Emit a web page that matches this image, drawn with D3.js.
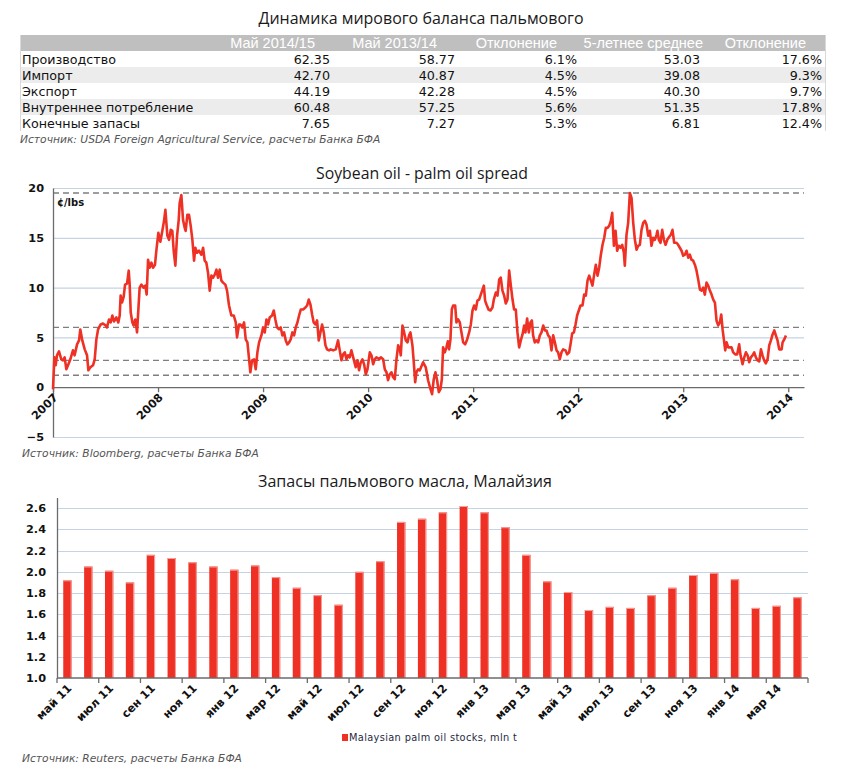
<!DOCTYPE html>
<html><head><meta charset="utf-8">
<script src="https://cdn.jsdelivr.net/npm/d3@7"></script>
<style>body{margin:0;background:#fff}svg{display:block}</style>
</head><body>
<script>
// ---------- DATA ----------
const tableTitle = "Динамика мирового баланса пальмового";
const tableColumns = ["Май 2014/15","Май 2013/14","Отклонение","5-летнее среднее","Отклонение"];
const tableRows = ["Производство","Импорт","Экспорт","Внутреннее потребление","Конечные запасы"];
const may2014 = ["62.35","42.70","44.19","60.48","7.65"];
const may2013 = ["58.77","40.87","42.28","57.25","7.27"];
const deviation1 = ["6.1%","4.5%","4.5%","5.6%","5.3%"];
const avg5y = ["53.03","39.08","40.30","51.35","6.81"];
const deviation2 = ["17.6%","9.3%","9.7%","17.8%","12.4%"];
const tableSource = "Источник: USDA Foreign Agricultural Service, расчеты Банка БФА";

const spreadTitle = "Soybean oil - palm oil spread";
const spreadUnit = "¢/lbs";
const spreadYearTicks = [2007,2008,2009,2010,2011,2012,2013,2014];
const spreadValueTicks = [-5,0,5,10,15,20];
const spreadRefLines = [19.5, 6.0, 2.7, 1.2];
const spreadTime = [
2007.000,2007.013,2007.025,2007.038,2007.057,2007.079,2007.095,2007.111,2007.127,2007.143,2007.165,2007.190,2007.206,2007.229,2007.248,2007.260,2007.279,2007.302,2007.324,2007.337,
2007.356,2007.381,2007.397,2007.413,2007.429,2007.454,2007.476,2007.502,2007.514,2007.533,2007.549,2007.565,2007.581,2007.603,2007.622,2007.635,2007.644,2007.657,2007.673,2007.686,
2007.705,2007.721,2007.730,2007.740,2007.756,2007.768,2007.784,2007.800,2007.825,2007.841,2007.863,2007.879,2007.892,2007.905,2007.921,2007.937,2007.952,2007.971,2007.984,2008.003,
2008.022,2008.041,2008.057,2008.070,2008.089,2008.105,2008.121,2008.136,2008.149,2008.165,2008.181,2008.197,2008.206,2008.222,2008.238,2008.254,2008.263,2008.279,2008.295,2008.311,
2008.327,2008.343,2008.355,2008.371,2008.390,2008.413,2008.429,2008.444,2008.460,2008.476,2008.492,2008.508,2008.524,2008.540,2008.556,2008.571,2008.587,2008.603,2008.619,2008.641,
2008.657,2008.676,2008.698,2008.721,2008.740,2008.752,2008.771,2008.784,2008.803,2008.819,2008.835,2008.851,2008.867,2008.879,2008.895,2008.914,2008.930,2008.946,2008.962,2008.984,
2009.000,2009.016,2009.032,2009.048,2009.063,2009.086,2009.102,2009.117,2009.133,2009.152,2009.168,2009.184,2009.200,2009.216,2009.232,2009.248,2009.263,2009.279,2009.295,2009.311,
2009.327,2009.343,2009.359,2009.381,2009.403,2009.419,2009.435,2009.451,2009.467,2009.482,2009.498,2009.514,2009.530,2009.546,2009.562,2009.578,2009.594,2009.609,2009.628,2009.644,
2009.667,2009.692,2009.714,2009.730,2009.746,2009.762,2009.778,2009.794,2009.809,2009.825,2009.841,2009.863,2009.882,2009.898,2009.914,2009.930,2009.946,2009.962,2009.978,2009.994,
2010.016,2010.032,2010.048,2010.063,2010.079,2010.105,2010.121,2010.143,2010.159,2010.175,2010.190,2010.206,2010.222,2010.238,2010.254,2010.270,2010.286,2010.302,2010.311,2010.327,
2010.343,2010.359,2010.375,2010.390,2010.403,2010.422,2010.435,2010.448,2010.460,2010.476,2010.492,2010.524,2010.549,2010.571,2010.594,2010.609,2010.625,2010.641,2010.657,2010.673,
2010.689,2010.702,2010.714,2010.730,2010.746,2010.759,2010.771,2010.784,2010.797,2010.809,2010.829,2010.841,2010.857,2010.873,2010.889,2010.905,2010.924,2010.943,2010.962,2010.978,
2010.994,2011.009,2011.025,2011.041,2011.057,2011.073,2011.089,2011.102,2011.114,2011.127,2011.146,2011.165,2011.184,2011.197,2011.216,2011.232,2011.248,2011.263,2011.279,2011.295,
2011.311,2011.327,2011.343,2011.359,2011.375,2011.390,2011.406,2011.422,2011.438,2011.454,2011.470,2011.486,2011.498,2011.514,2011.530,2011.546,2011.559,2011.571,2011.587,2011.603,
2011.619,2011.635,2011.651,2011.667,2011.683,2011.698,2011.714,2011.730,2011.746,2011.762,2011.778,2011.794,2011.809,2011.825,2011.841,2011.857,2011.879,2011.895,2011.914,2011.927,
2011.943,2011.959,2011.975,2011.990,2012.006,2012.022,2012.041,2012.057,2012.073,2012.089,2012.105,2012.121,2012.136,2012.152,2012.168,2012.184,2012.200,2012.216,2012.232,2012.248,
2012.263,2012.279,2012.295,2012.311,2012.324,2012.340,2012.356,2012.371,2012.387,2012.403,2012.419,2012.435,2012.444,2012.460,2012.476,2012.492,2012.508,2012.524,2012.540,2012.556,
2012.571,2012.587,2012.603,2012.619,2012.635,2012.651,2012.667,2012.683,2012.698,2012.714,2012.730,2012.746,2012.755,2012.768,2012.784,2012.800,2012.816,2012.832,2012.848,2012.867,
2012.882,2012.898,2012.914,2012.936,2012.952,2012.968,2012.984,2013.000,2013.016,2013.032,2013.048,2013.063,2013.079,2013.095,2013.111,2013.127,2013.143,2013.159,2013.175,2013.190,
2013.206,2013.222,2013.238,2013.254,2013.270,2013.286,2013.302,2013.317,2013.333,2013.349,2013.362,2013.375,2013.387,2013.400,2013.413,2013.429,2013.444,2013.460,2013.476,2013.495,
2013.514,2013.533,2013.546,2013.565,2013.581,2013.597,2013.613,2013.628,2013.644,2013.660,2013.676,2013.692,2013.708,2013.724,2013.740,2013.755,2013.771,2013.787,2013.803,2013.819,
2013.835,2013.851,2013.867,2013.882,2013.898,2013.914,2013.937,2013.946,2013.962,2013.978];
const spreadValue = [
-0.2,3.0,2.2,3.2,3.6,2.8,2.7,3.0,1.8,2.2,2.8,3.7,3.2,4.3,4.7,5.8,4.7,3.8,3.2,1.7,
2.0,2.2,2.8,4.8,5.8,6.3,6.4,6.2,6.0,6.8,6.5,7.2,6.6,7.0,6.5,7.2,9.2,8.5,9.1,10.3,
10.4,11.7,10.3,7.5,6.5,6.2,6.8,5.5,10.0,10.3,10.0,10.2,9.3,12.8,12.0,12.5,12.0,12.3,13.7,15.5,
14.6,15.7,16.7,17.8,15.2,14.8,15.8,15.7,13.7,12.2,15.2,16.8,18.5,19.3,16.8,16.0,15.7,17.3,17.3,16.2,
14.8,12.7,14.0,13.5,13.7,13.3,14.0,12.7,12.5,11.5,9.7,11.2,11.0,11.3,11.8,11.0,11.8,10.7,10.5,10.3,
9.7,8.2,7.2,7.2,6.5,5.0,6.3,6.3,6.0,6.5,4.8,4.5,2.8,1.5,2.7,2.8,1.8,3.5,4.5,5.2,
6.0,5.5,6.8,6.3,7.0,7.2,7.7,6.8,6.0,5.8,6.0,5.2,5.5,4.7,4.3,4.5,4.8,5.5,5.2,6.0,
6.5,7.2,7.8,7.8,8.0,8.2,8.8,8.3,7.3,6.5,6.3,6.7,4.7,5.5,6.3,5.5,4.2,3.8,3.7,3.8,
3.7,3.8,4.7,3.7,2.7,3.3,3.5,2.8,3.2,3.0,3.7,2.8,2.0,2.7,1.7,2.5,2.8,2.3,1.3,1.8,
3.5,3.2,2.3,2.8,3.0,2.8,3.0,2.8,1.8,1.5,0.7,1.3,1.5,1.0,0.8,2.8,4.2,3.8,3.2,6.2,
5.5,4.7,4.5,5.2,5.5,4.2,2.5,0.5,1.5,1.8,1.7,2.5,2.0,0.7,-0.2,-0.7,0.8,1.5,0.7,-0.5,
-0.2,0.8,4.0,3.5,4.0,4.6,3.8,4.8,7.8,8.2,8.2,6.5,6.8,6.5,5.5,4.5,4.3,4.8,5.5,6.3,
7.7,8.2,7.8,8.7,8.8,9.3,9.8,10.2,8.7,8.3,7.8,7.7,8.0,8.8,9.5,9.2,10.8,11.0,9.7,9.2,
8.4,8.8,11.7,10.2,8.8,7.8,7.8,5.5,4.0,4.7,5.3,6.2,5.5,6.9,5.5,6.5,6.7,5.2,4.5,4.7,
4.5,5.2,5.5,6.2,5.7,5.7,5.2,5.0,3.7,5.2,4.5,3.7,3.5,2.8,3.5,3.8,3.7,3.3,3.5,4.3,
5.4,5.5,6.3,7.2,7.7,8.2,8.2,9.3,9.2,10.7,11.2,10.7,10.2,11.3,12.3,11.2,12.0,13.3,14.3,15.0,
16.0,16.0,16.2,16.7,17.5,14.2,15.7,13.7,14.2,14.0,14.3,13.5,12.2,15.3,16.5,19.5,19.0,16.5,14.8,13.8,
14.2,14.3,15.8,16.5,16.7,16.3,15.2,15.7,14.2,15.0,14.8,15.3,15.7,14.8,14.5,15.8,14.8,14.3,14.8,15.1,
15.3,15.8,14.5,14.5,14.3,14.0,13.7,13.2,13.3,13.7,13.0,13.3,12.8,12.7,12.3,11.7,10.8,9.8,9.7,10.0,
9.3,10.5,10.2,9.7,9.3,8.8,8.5,6.7,6.2,6.5,7.3,5.8,4.8,3.7,4.5,4.0,4.0,4.0,3.5,3.3,
3.3,4.3,3.2,2.3,3.0,3.5,3.2,2.5,3.0,3.2,3.5,3.0,2.7,2.6,3.8,3.2,2.7,2.4,2.8,4.2,
4.7,5.3,5.7,5.2,4.7,3.8,3.8,4.5,4.8,5.2];
const spreadSource = "Источник: Bloomberg, расчеты Банка БФА";

const stocksTitle = "Запасы пальмового масла, Малайзия";
const stockMonths = ["май 11","июн 11","июл 11","авг 11","сен 11","окт 11","ноя 11","дек 11","янв 12","фев 12","мар 12","апр 12",
"май 12","июн 12","июл 12","авг 12","сен 12","окт 12","ноя 12","дек 12","янв 13","фев 13","мар 13","апр 13",
"май 13","июн 13","июл 13","авг 13","сен 13","окт 13","ноя 13","дек 13","янв 14","фев 14","мар 14","апр 14"];
const stockValues = [1.92,2.05,2.01,1.90,2.16,2.13,2.09,2.05,2.02,2.06,1.95,1.85,
1.78,1.69,2.00,2.10,2.47,2.50,2.56,2.62,2.56,2.42,2.16,1.91,
1.81,1.64,1.67,1.66,1.78,1.85,1.97,1.99,1.93,1.66,1.68,1.76];
const stockTicks = [1.0,1.2,1.4,1.6,1.8,2.0,2.2,2.4,2.6];
const stockLegend = "Malaysian palm oil stocks, mln t";
const stockSource = "Источник: Reuters, расчеты Банка БФА";

// ---------- STYLE ----------
const RED = "#ee3124", GRID = "#c5d3e3", AXIS = "#6b6b6b", DASH = "#7f7f7f";
const TITLE_FONT = "'Open Sans', 'Noto Sans', sans-serif";
const BODY_FONT = "'DejaVu Sans', Verdana, sans-serif";

const svg = d3.select("body").append("svg").attr("width", 842).attr("height", 769);

// ---------- TABLE ----------
svg.append("text").attr("x", 421).attr("y", 24).attr("text-anchor","middle")
  .attr("font-family", TITLE_FONT).attr("font-size", 17).attr("fill","#1a1a1a")
  .attr("textLength", 325).attr("lengthAdjust","spacingAndGlyphs").text(tableTitle);

const rowY = d3.scaleBand().domain(d3.range(-1, tableRows.length)).range([35, 131]);
svg.append("rect").attr("x",20).attr("y",rowY(-1)).attr("width",805).attr("height",rowY.bandwidth()).attr("fill","#bfbfbf");
tableRows.forEach((r,i)=>{ if(i%2===1) svg.append("rect").attr("x",20).attr("y",rowY(i)).attr("width",805).attr("height",rowY.bandwidth()).attr("fill","#ececec"); });
svg.append("line").attr("x1",20.5).attr("x2",20.5).attr("y1",35).attr("y2",131).attr("stroke","#d9d9d9");
svg.append("line").attr("x1",825.5).attr("x2",825.5).attr("y1",35).attr("y2",131).attr("stroke","#d9d9d9");

const headerRight = [315, 437, 557, 703, 806];
const valueRight = [330, 455, 577, 700, 822];
tableColumns.forEach((c,j)=>{
  svg.append("text").attr("x", headerRight[j]).attr("y", rowY(-1)+rowY.bandwidth()/2+5)
    .attr("text-anchor","end").attr("font-family","'Liberation Sans', Arial, sans-serif").attr("font-size",14.5)
    .attr("fill","#ffffff").text(c);
});
const cols = [may2014, may2013, deviation1, avg5y, deviation2];
tableRows.forEach((r,i)=>{
  const yb = rowY(i)+rowY.bandwidth()/2+4.5;
  svg.append("text").attr("x",22).attr("y",yb).attr("font-family",BODY_FONT).attr("font-size",12.7).attr("fill","#111").text(r);
  cols.forEach((col,j)=>{
    svg.append("text").attr("x",valueRight[j]).attr("y",yb).attr("text-anchor","end")
      .attr("font-family",BODY_FONT).attr("font-size",12.7).attr("fill","#111").text(col[i]);
  });
});
svg.append("text").attr("x",20).attr("y",143).attr("font-family",BODY_FONT).attr("font-style","italic")
  .attr("font-size",10.7).attr("fill","#555").text(tableSource);

// ---------- LINE CHART ----------
const lx = d3.scaleLinear().domain([2007, 2014.15]).range([53, 804]);
const ly = d3.scaleLinear().domain([-5, 20]).range([437, 188]);

svg.append("text").attr("x", 422).attr("y", 179).attr("text-anchor","middle")
  .attr("font-family", TITLE_FONT).attr("font-size", 17).attr("fill","#1a1a1a")
  .attr("textLength", 212).attr("lengthAdjust","spacingAndGlyphs").text(spreadTitle);

const lg = svg.append("g");
lg.selectAll("line.grid").data(spreadValueTicks.filter(v=>v!==0)).join("line")
  .attr("x1", lx(2007)).attr("x2", 804).attr("y1", d=>ly(d)+0.5).attr("y2", d=>ly(d)+0.5)
  .attr("stroke", GRID).attr("stroke-width", 1.2);
lg.selectAll("line.ref").data(spreadRefLines).join("line")
  .attr("x1", lx(2007)).attr("x2", 804).attr("y1", d=>ly(d)).attr("y2", d=>ly(d))
  .attr("stroke", DASH).attr("stroke-width", 1.3).attr("stroke-dasharray","6,4");

const yAxisL = d3.axisLeft(ly).tickValues(spreadValueTicks).tickSize(0).tickPadding(9);
const yg = svg.append("g").attr("transform",`translate(${lx(2007)},0)`).call(yAxisL);
yg.select(".domain").attr("stroke", AXIS).attr("stroke-width",1.3);
yg.selectAll("text").attr("font-family",BODY_FONT).attr("font-weight","bold").attr("font-size",11.3).attr("fill","#111");

const xAxisL = d3.axisBottom(lx).tickValues(spreadYearTicks).tickFormat(d3.format("d")).tickSize(5).tickSizeOuter(0);
const xg = svg.append("g").attr("transform",`translate(0,${ly(0)})`).call(xAxisL);
xg.select(".domain").attr("stroke", AXIS).attr("stroke-width",1.3);
xg.selectAll(".tick line").attr("stroke", AXIS).attr("stroke-width",1.3);
xg.selectAll("text").attr("font-family",BODY_FONT).attr("font-weight","bold").attr("font-size",11.3).attr("fill","#111")
  .attr("text-anchor","end").attr("dy",null).attr("y",0).attr("x",0)
  .attr("transform","translate(5,11) rotate(-45)");

svg.append("text").attr("x",57).attr("y",206).attr("font-family",BODY_FONT).attr("font-weight","bold")
  .attr("font-size",10).attr("fill","#111").text(spreadUnit);

const line = d3.line().x((d,i)=>lx(spreadTime[i])).y(d=>ly(d)).curve(d3.curveLinear);
svg.append("path").datum(spreadValue).attr("d", line).attr("fill","none")
  .attr("stroke", RED).attr("stroke-width", 2.6).attr("stroke-linejoin","round");

svg.append("text").attr("x",22).attr("y",457).attr("font-family",BODY_FONT).attr("font-style","italic")
  .attr("font-size",10.7).attr("fill","#555").text(spreadSource);

// ---------- BAR CHART ----------
const bx = d3.scaleBand().domain(stockMonths).range([57, 808]).paddingInner(0.6).paddingOuter(0.3);
const by = d3.scaleLinear().domain([1.0, 2.7]).range([678, 497.5]);

svg.append("text").attr("x", 405).attr("y", 487).attr("text-anchor","middle")
  .attr("font-family", TITLE_FONT).attr("font-size", 17).attr("fill","#1a1a1a")
  .attr("textLength", 294).attr("lengthAdjust","spacingAndGlyphs").text(stocksTitle);

svg.append("g").selectAll("line").data(stockTicks.filter(v=>v>1)).join("line")
  .attr("x1",57).attr("x2",808).attr("y1",d=>Math.round(by(d))+0.5).attr("y2",d=>Math.round(by(d))+0.5)
  .attr("stroke",GRID).attr("stroke-width",1.2);

const bars = svg.append("g");
bars.selectAll("rect").data(stockValues).join("rect")
  .attr("x",(d,i)=>bx(stockMonths[i])).attr("width",bx.bandwidth())
  .attr("y",d=>by(d)).attr("height",d=>by(1.0)-by(d)).attr("fill",RED);
bars.selectAll("path").data(stockValues).join("path")
  .attr("d",(d,i)=>{const x0=bx(stockMonths[i]), x1=x0+bx.bandwidth(); return `M${x0},${by(d)+0.5}H${x1-0.5}V${by(1.0)}`;})
  .attr("fill","none").attr("stroke","#f5a3a0").attr("stroke-width",1);

const yAxisB = d3.axisLeft(by).tickValues(stockTicks).tickFormat(d3.format(".1f")).tickSize(0).tickPadding(11);
const ybg = svg.append("g").attr("transform","translate(57,0)").call(yAxisB);
ybg.select(".domain").attr("stroke",AXIS).attr("stroke-width",1.3);
ybg.selectAll("text").attr("font-family",BODY_FONT).attr("font-weight","bold").attr("font-size",11.3).attr("fill","#111");

// bottom axis line
svg.append("line").attr("x1",57).attr("x2",808).attr("y1",by(1.0)).attr("y2",by(1.0)).attr("stroke",AXIS).attr("stroke-width",1.3);
const step = bx.step();
const tickIdx = d3.range(0, stockMonths.length+1, 2);
svg.append("g").selectAll("line").data(tickIdx).join("line")
  .attr("x1",i=> i<stockMonths.length ? bx(stockMonths[i]) - bx.paddingOuter()*step : bx(stockMonths[i-1]) + bx.bandwidth() + bx.paddingOuter()*step)
  .attr("x2",function(i){return d3.select(this).attr("x1");})
  .attr("y1",by(1.0)).attr("y2",by(1.0)+5).attr("stroke",AXIS).attr("stroke-width",1.3);

svg.append("g").selectAll("text").data(stockMonths.filter((m,i)=>i%2===0)).join("text")
  .attr("transform", m=>`translate(${bx(m)+bx.bandwidth()/2+5},${by(1.0)+11}) rotate(-45)`)
  .attr("text-anchor","end").attr("font-family",BODY_FONT).attr("font-weight","bold").attr("font-size",11.3).attr("fill","#111")
  .text(m=>m);

// legend
svg.append("rect").attr("x",342).attr("y",734).attr("width",6).attr("height",7).attr("fill",RED);
svg.append("text").attr("x",349).attr("y",741).attr("font-family",BODY_FONT).attr("font-size",9.8).attr("fill","#1f2a44")
  .attr("letter-spacing",0.35).text(stockLegend);

svg.append("text").attr("x",22).attr("y",762).attr("font-family",BODY_FONT).attr("font-style","italic")
  .attr("font-size",10.7).attr("fill","#555").text(stockSource);
</script>
</body></html>
